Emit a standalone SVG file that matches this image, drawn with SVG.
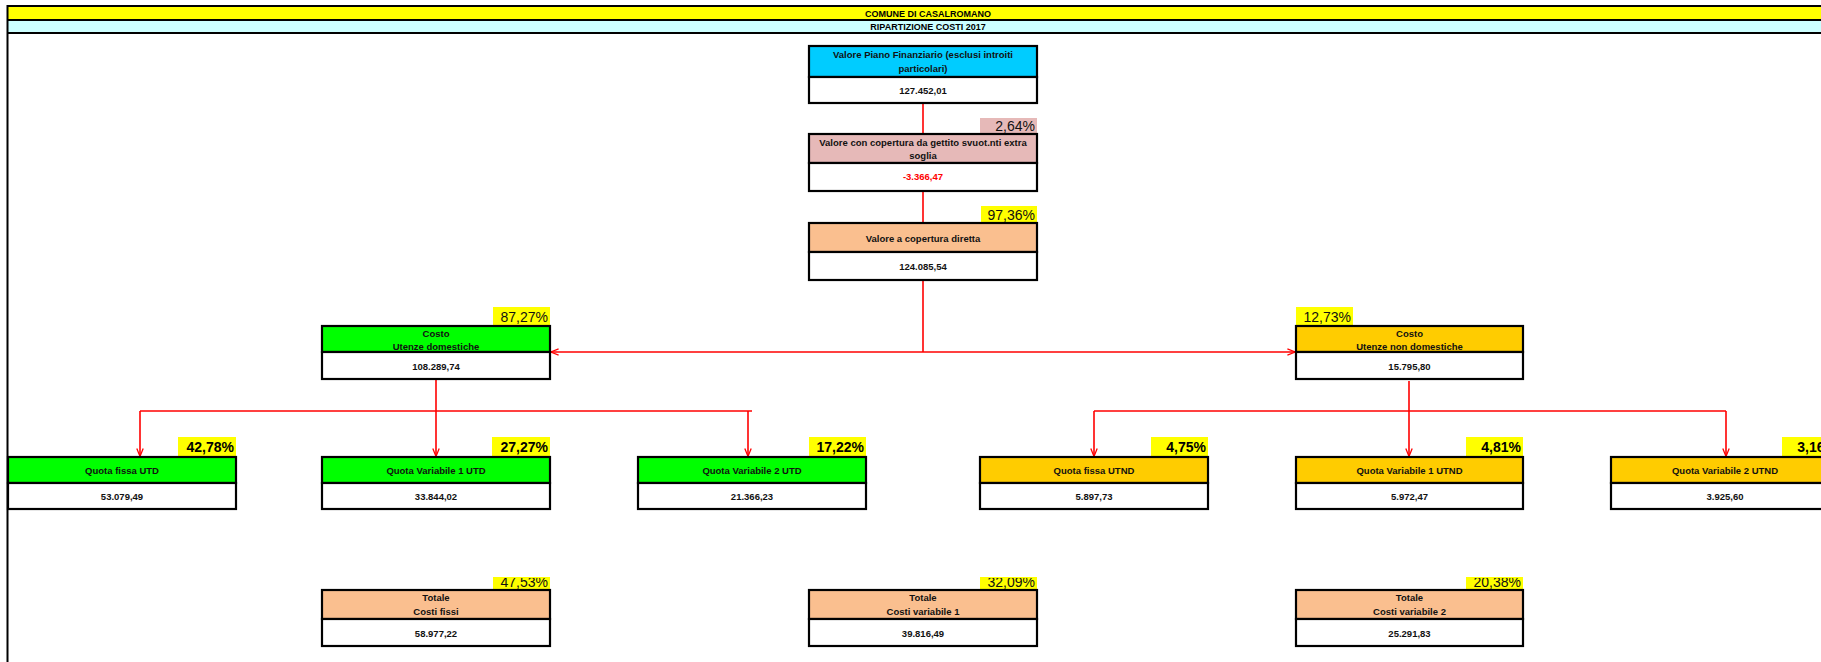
<svg xmlns="http://www.w3.org/2000/svg" width="1821" height="662" viewBox="0 0 1821 662">
<style>
.bx{stroke:#000;stroke-width:2.2}
.t{font-family:"Liberation Sans",Arial,sans-serif;font-weight:bold;font-size:9.5px;fill:#111;text-anchor:middle}
.ttl{font-family:"Liberation Sans",Arial,sans-serif;font-weight:bold;font-size:9px;fill:#000;text-anchor:middle}
.p{font-family:"Liberation Sans",Arial,sans-serif;font-size:14px;fill:#111;text-anchor:end}
.pb{font-family:"Liberation Sans",Arial,sans-serif;font-size:14px;font-weight:bold;fill:#000;text-anchor:end}
.c{stroke:#ff0000;stroke-width:1.6;fill:none}
.y{fill:#ffff00}
</style>
<defs>
<marker id="arr" viewBox="0 0 10 10" refX="9.5" refY="5" markerWidth="8" markerHeight="8" markerUnits="userSpaceOnUse" orient="auto">
<path d="M0,1 L10,5 L0,9" fill="none" stroke="#ff0000" stroke-width="1.6"/>
</marker>
<clipPath id="clipT"><rect x="0" y="578" width="1821" height="20"/></clipPath>
</defs>
<rect width="1821" height="662" fill="#ffffff"/>

<g id="header">
<rect x="7" y="6" width="1814" height="14" fill="#ffff00"/>
<rect x="7" y="20" width="1814" height="13" fill="#ccffff"/>
<line x1="7" y1="6" x2="1821" y2="6" stroke="#000" stroke-width="2"/>
<line x1="7" y1="20" x2="1821" y2="20" stroke="#000" stroke-width="2"/>
<line x1="7" y1="33" x2="1821" y2="33" stroke="#000" stroke-width="2"/>
<line x1="7.5" y1="5" x2="7.5" y2="662" stroke="#000" stroke-width="2"/>
<text class="ttl" x="928" y="16.5">COMUNE DI CASALROMANO</text>
<text class="ttl" x="928" y="30">RIPARTIZIONE COSTI 2017</text>
</g>

<g id="connectors">
<path class="c" d="M923,103 V134"/>
<path class="c" d="M923,191 V223"/>
<path class="c" d="M923,280 V352"/>
<path class="c" d="M923,352 H551" marker-end="url(#arr)"/>
<path class="c" d="M923,352 H1295" marker-end="url(#arr)"/>
<path class="c" d="M436,379 V456" marker-end="url(#arr)"/>
<path class="c" d="M140,411 H752"/>
<path class="c" d="M140,411 V456" marker-end="url(#arr)"/>
<path class="c" d="M748,411 V456" marker-end="url(#arr)"/>
<path class="c" d="M1409,381 V456" marker-end="url(#arr)"/>
<path class="c" d="M1094,411 H1726"/>
<path class="c" d="M1094,411 V456" marker-end="url(#arr)"/>
<path class="c" d="M1726,411 V456" marker-end="url(#arr)"/>
</g>

<g id="n_piano">
<rect class="bx" x="809" y="46" width="228" height="31" fill="#00ccff"/>
<rect class="bx" x="809" y="77" width="228" height="26" fill="#ffffff"/>
<text class="t" x="923" y="57.5">Valore Piano Finanziario (esclusi introiti</text>
<text class="t" x="923" y="71.5">particolari)</text>
<text class="t" x="923" y="93.5">127.452,01</text>
</g>

<g id="n_svuot">
<rect x="980" y="118" width="57" height="16" fill="#e6b9b8"/>
<text class="p" x="1035" y="130.5">2,64%</text>
<rect class="bx" x="809" y="134" width="228" height="29" fill="#e6b9b8"/>
<rect class="bx" x="809" y="163" width="228" height="28" fill="#ffffff"/>
<text class="t" x="923" y="145.5">Valore con copertura da gettito svuot.nti extra</text>
<text class="t" x="923" y="159">soglia</text>
<text class="t" x="923" y="180" fill="#ff0000" style="fill:#ff0000">-3.366,47</text>
</g>

<g id="n_diretta">
<rect class="y" x="981" y="206" width="56" height="17"/>
<text class="p" x="1035" y="219.5">97,36%</text>
<rect class="bx" x="809" y="223" width="228" height="29" fill="#fabf8f"/>
<rect class="bx" x="809" y="252" width="228" height="28" fill="#ffffff"/>
<text class="t" x="923" y="242">Valore a copertura diretta</text>
<text class="t" x="923" y="270">124.085,54</text>
</g>

<g id="n_ud">
<rect class="y" x="493" y="307" width="57" height="19"/>
<text class="p" x="548" y="321.5">87,27%</text>
<rect class="bx" x="322" y="326" width="228" height="26" fill="#00ff00"/>
<rect class="bx" x="322" y="352" width="228" height="27" fill="#ffffff"/>
<text class="t" x="436" y="336.5">Costo</text>
<text class="t" x="436" y="349.5">Utenze domestiche</text>
<text class="t" x="436" y="370">108.289,74</text>
</g>

<g id="n_und">
<rect class="y" x="1296" y="307" width="57" height="19"/>
<text class="p" x="1351" y="321.5">12,73%</text>
<rect class="bx" x="1296" y="326" width="227" height="26" fill="#ffcc00"/>
<rect class="bx" x="1296" y="352" width="227" height="27" fill="#ffffff"/>
<text class="t" x="1409.5" y="336.5">Costo</text>
<text class="t" x="1409.5" y="349.5">Utenze non domestiche</text>
<text class="t" x="1409.5" y="370">15.795,80</text>
</g>

<g id="n_qf_utd">
<rect class="y" x="178" y="437" width="58" height="20"/>
<text class="pb" x="234" y="452">42,78%</text>
<rect class="bx" x="8" y="457" width="228" height="26" fill="#00ff00"/>
<rect class="bx" x="8" y="483" width="228" height="26" fill="#ffffff"/>
<text class="t" x="122" y="473.5">Quota fissa UTD</text>
<text class="t" x="122" y="500">53.079,49</text>
</g>

<g id="n_qv1_utd">
<rect class="y" x="492" y="437" width="58" height="20"/>
<text class="pb" x="548" y="452">27,27%</text>
<rect class="bx" x="322" y="457" width="228" height="26" fill="#00ff00"/>
<rect class="bx" x="322" y="483" width="228" height="26" fill="#ffffff"/>
<text class="t" x="436" y="473.5">Quota Variabile 1 UTD</text>
<text class="t" x="436" y="500">33.844,02</text>
</g>

<g id="n_qv2_utd">
<rect class="y" x="809" y="437" width="57" height="20"/>
<text class="pb" x="864" y="452">17,22%</text>
<rect class="bx" x="638" y="457" width="228" height="26" fill="#00ff00"/>
<rect class="bx" x="638" y="483" width="228" height="26" fill="#ffffff"/>
<text class="t" x="752" y="473.5">Quota Variabile 2 UTD</text>
<text class="t" x="752" y="500">21.366,23</text>
</g>

<g id="n_qf_utnd">
<rect class="y" x="1151" y="437" width="57" height="20"/>
<text class="pb" x="1206" y="452">4,75%</text>
<rect class="bx" x="980" y="457" width="228" height="26" fill="#ffcc00"/>
<rect class="bx" x="980" y="483" width="228" height="26" fill="#ffffff"/>
<text class="t" x="1094" y="473.5">Quota fissa UTND</text>
<text class="t" x="1094" y="500">5.897,73</text>
</g>

<g id="n_qv1_utnd">
<rect class="y" x="1466" y="437" width="57" height="20"/>
<text class="pb" x="1521" y="452">4,81%</text>
<rect class="bx" x="1296" y="457" width="227" height="26" fill="#ffcc00"/>
<rect class="bx" x="1296" y="483" width="227" height="26" fill="#ffffff"/>
<text class="t" x="1409.5" y="473.5">Quota Variabile 1 UTND</text>
<text class="t" x="1409.5" y="500">5.972,47</text>
</g>

<g id="n_qv2_utnd">
<rect class="y" x="1782" y="437" width="57" height="20"/>
<text class="pb" x="1837" y="452">3,16%</text>
<rect class="bx" x="1611" y="457" width="228" height="26" fill="#ffcc00"/>
<rect class="bx" x="1611" y="483" width="228" height="26" fill="#ffffff"/>
<text class="t" x="1725" y="473.5">Quota Variabile 2 UTND</text>
<text class="t" x="1725" y="500">3.925,60</text>
</g>

<g id="n_tot_fissi">
<rect class="y" x="493" y="577" width="57" height="13"/>
<text class="p" x="548" y="587" clip-path="url(#clipT)">47,53%</text>
<rect class="bx" x="322" y="590" width="228" height="29" fill="#fabf8f"/>
<rect class="bx" x="322" y="619" width="228" height="27" fill="#ffffff"/>
<text class="t" x="436" y="601">Totale</text>
<text class="t" x="436" y="615">Costi fissi</text>
<text class="t" x="436" y="637">58.977,22</text>
</g>

<g id="n_tot_var1">
<rect class="y" x="980" y="577" width="57" height="13"/>
<text class="p" x="1035" y="587" clip-path="url(#clipT)">32,09%</text>
<rect class="bx" x="809" y="590" width="228" height="29" fill="#fabf8f"/>
<rect class="bx" x="809" y="619" width="228" height="27" fill="#ffffff"/>
<text class="t" x="923" y="601">Totale</text>
<text class="t" x="923" y="615">Costi variabile 1</text>
<text class="t" x="923" y="637">39.816,49</text>
</g>

<g id="n_tot_var2">
<rect class="y" x="1466" y="577" width="57" height="13"/>
<text class="p" x="1521" y="587" clip-path="url(#clipT)">20,38%</text>
<rect class="bx" x="1296" y="590" width="227" height="29" fill="#fabf8f"/>
<rect class="bx" x="1296" y="619" width="227" height="27" fill="#ffffff"/>
<text class="t" x="1409.5" y="601">Totale</text>
<text class="t" x="1409.5" y="615">Costi variabile 2</text>
<text class="t" x="1409.5" y="637">25.291,83</text>
</g>
</svg>
